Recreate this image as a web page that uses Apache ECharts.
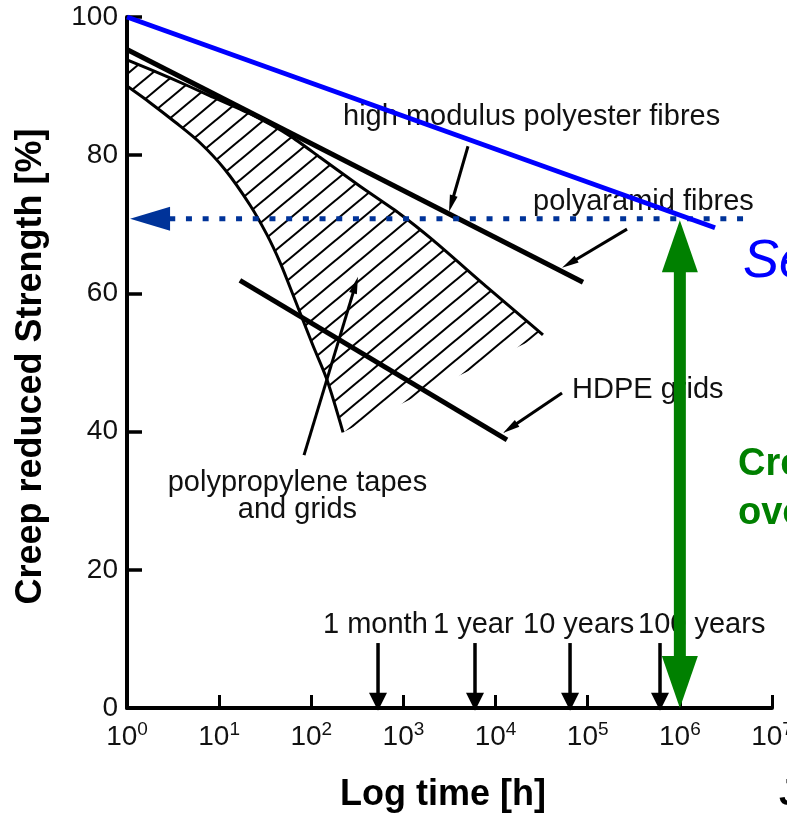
<!DOCTYPE html>
<html><head><meta charset="utf-8">
<script src="https://cdn.jsdelivr.net/npm/echarts@6/dist/echarts.min.js"></script>
<style>html,body{margin:0;padding:0;background:#fff}#c{width:787px;height:818px}</style>
</head><body><div id="c"></div>
<script>
// ---------------- data ----------------
const xTickExponents = [0, 1, 2, 3, 4, 5, 6, 7];
const yTickValues = [0, 20, 40, 60, 80, 100];

// blue design line
const serviceLine = [[1, 100], [2.41e6, 69.5]];
// high modulus polyester / polyaramid line
const polyesterLine = [[1, 95.3], [88900, 61.6]];
// HDPE grids line
const hdpeLine = [[16.8, 61.9], [13300, 38.8]];
// polypropylene band (upper and lower boundary)
const ppUpperX = [1, 2.93, 7.96, 21.6, 58.8, 124, 338, 918, 2094, 8070, 32700];
const ppUpperY = [93.8, 91.2, 88.6, 86.0, 82.8, 79.7, 75.5, 71.5, 67.7, 60.9, 54.0];
const ppLowerX = [1, 1.78, 3.32, 6.2, 11.6, 21.6, 33, 45.8, 58.8, 75.5, 104, 148, 221];
const ppLowerY = [90.0, 87.6, 84.8, 81.8, 77.9, 72.8, 68.5, 64.5, 60.9, 57.2, 52.5, 47.5, 39.9];

// dotted reference level arrow (from right end to the y axis)
const referenceArrow = [[4.85e6, 70.8, 1.08, 70.8]];
// green double arrow
const reductionArrow = [[1e6, 70.6, 1e6, 0]];
// pointer arrows from labels to curves [x1,y1,x2,y2]
const pointerArrows = [
  [5020, 81.3, 3125, 71.8],
  [267000, 69.3, 52600, 63.7],
  [52600, 45.6, 12050, 39.8],
  [83.4, 36.6, 321, 62.4]
];
// time marker arrows
const timeArrowX = [530, 5980, 64300, 609000];
const timeArrowTop = 9.4;
const timeArrowTip = -0.4;
const timeLabels = ['1 month', '1 year', '10 years', '100 years'];
const timeLabelX = [134, 2094, 19860, 351600];
const timeLabelY = 12.0;

// curve labels
const curveLabels = ['high modulus polyester fibres', 'polyaramid fibres', 'HDPE grids'];
const curveLabelX = [221, 25500, 67600];
const curveLabelY = [85.5, 73.2, 46.0];
const ppLabels = ['polypropylene tapes', 'and grids'];
const ppLabelX = [70.8, 70.8];
const ppLabelY = [32.6, 28.7];

// ---------------- chart ----------------
const F = '"Liberation Sans", Arial, Helvetica, sans-serif';
const zip = (xs, ys) => xs.map((x, i) => [x, ys[i]]);

function hatchPattern() {
  const W = 24, H = 20;
  const c = document.createElement('canvas');
  c.width = W; c.height = H;
  const g = c.getContext('2d');
  g.strokeStyle = '#000'; g.lineWidth = 2.1;
  for (let n = 0; n <= 2; n++) {
    g.beginPath();
    g.moveTo(-3, n * H + 3 * H / W);
    g.lineTo(W + 3, n * H - (W + 3) * H / W);
    g.stroke();
  }
  return c;
}
const pattern = hatchPattern();

function arrowGroup(p1, p2, o) {
  const dx = p2[0] - p1[0], dy = p2[1] - p1[1];
  const L = Math.hypot(dx, dy) || 1, ux = dx / L, uy = dy / L, nx = -uy, ny = ux;
  const k = 0.85;
  const s = o.startHead ? [p1[0] + ux * o.headLen * k, p1[1] + uy * o.headLen * k] : p1;
  const e = o.endHead ? [p2[0] - ux * o.headLen * k, p2[1] - uy * o.headLen * k] : p2;
  const children = [{
    type: 'line', shape: { x1: s[0], y1: s[1], x2: e[0], y2: e[1] },
    style: { stroke: o.color, lineWidth: o.width, lineDash: o.dash || null, lineCap: 'butt' }
  }];
  const head = (tip, dir) => {
    const bx = tip[0] - dir * ux * o.headLen, by = tip[1] - dir * uy * o.headLen;
    return {
      type: 'polygon',
      shape: { points: [tip, [bx + nx * o.headWid / 2, by + ny * o.headWid / 2], [bx - nx * o.headWid / 2, by - ny * o.headWid / 2]] },
      style: { fill: o.color }
    };
  };
  if (o.endHead) children.push(head(p2, 1));
  if (o.startHead) children.push(head(p1, -1));
  return { type: 'group', children };
}

function arrowSeries(data, o, z) {
  return {
    type: 'custom', coordinateSystem: 'cartesian2d', silent: true, z,
    encode: { x: [0, 2], y: [1, 3] }, data,
    renderItem: (params, api) => {
      const p1 = api.coord([api.value(0), api.value(1)]);
      const p2 = api.coord([api.value(2), api.value(3)]);
      return arrowGroup(p1, p2, o);
    }
  };
}

function textSeries(xs, ys, texts, align, z) {
  return {
    type: 'custom', coordinateSystem: 'cartesian2d', silent: true, z,
    encode: { x: 0, y: 1 },
    data: xs.map((x, i) => [x, Array.isArray(ys) ? ys[i] : ys]),
    renderItem: (params, api) => {
      const p = api.coord([api.value(0), api.value(1)]);
      return {
        type: 'text', x: p[0], y: p[1],
        style: { text: texts[params.dataIndex], fontSize: 29, fontFamily: F, fill: '#111', align, verticalAlign: 'middle' }
      };
    }
  };
}

function lineSeries(data, width, color, z, smooth) {
  return {
    type: 'line', data, showSymbol: false, symbol: 'none', silent: true, clip: false, z,
    smooth: smooth || false,
    lineStyle: { width, color, cap: 'butt', join: 'round' }
  };
}

const polygonPts = zip(ppUpperX, ppUpperY).concat(zip(ppLowerX, ppLowerY).reverse());

const chart = echarts.init(document.getElementById('c'));
chart.setOption({
  animation: false,
  backgroundColor: '#fff',
  grid: { left: 127, right: 15, top: 17, bottom: 110, containLabel: false, outerBoundsMode: 'none' },
  xAxis: {
    type: 'log', logBase: 10, min: Math.pow(10, xTickExponents[0]), max: Math.pow(10, xTickExponents[xTickExponents.length - 1]),
    splitNumber: 7,
    name: 'Log time [h]', nameLocation: 'middle', nameGap: 69,
    nameTextStyle: { fontSize: 36, fontWeight: 'bold', fontFamily: F, color: '#000', padding: [0, 13, 0, 0] },
    axisLine: { lineStyle: { color: '#000', width: 4 } },
    axisTick: { inside: true, length: 13, lineStyle: { color: '#000', width: 3 } },
    minorTick: { show: false },
    splitLine: { show: false },
    axisLabel: {
      margin: 12, showMinLabel: true, showMaxLabel: true,
      formatter: v => '{b|10}{s|' + Math.round(Math.log10(v)) + '}',
      rich: {
        b: { fontSize: 28, fontFamily: F, color: '#111', lineHeight: 34 },
        s: { fontSize: 19, fontFamily: F, color: '#111', lineHeight: 20, verticalAlign: 'top' }
      }
    }
  },
  yAxis: {
    type: 'value', min: yTickValues[0], max: yTickValues[yTickValues.length - 1], interval: 20,
    name: 'Creep reduced Strength [%]', nameLocation: 'middle', nameGap: 78,
    nameTextStyle: { fontSize: 36, fontWeight: 'bold', fontFamily: F, color: '#000', padding: [0, 8, 0, 0] },
    axisLine: { show: true, lineStyle: { color: '#000', width: 4 } },
    axisTick: { show: true, inside: true, length: 15, lineStyle: { color: '#000', width: 3.5 } },
    splitLine: { show: false },
    axisLabel: { margin: 9, fontSize: 28, fontFamily: F, color: '#111' }
  },
  series: [
    {
      type: 'custom', coordinateSystem: 'cartesian2d', silent: true, z: 1,
      encode: { x: 0, y: 1 }, data: [polygonPts[0]],
      renderItem: (params, api) => ({
        type: 'polygon',
        shape: { points: polygonPts.map(p => api.coord(p)) },
        style: { fill: { image: pattern, repeat: 'repeat' }, stroke: null }
      })
    },
    lineSeries(zip(ppUpperX, ppUpperY), 3, '#000', 2, 0.2),
    lineSeries(zip(ppLowerX, ppLowerY), 3, '#000', 2, 0.3),
    lineSeries(polyesterLine, 5, '#000', 3),
    lineSeries(hdpeLine, 5, '#000', 3),
    arrowSeries(pointerArrows, { width: 3, color: '#000', headLen: 17, headWid: 8, endHead: true }, 3),
    arrowSeries(timeArrowX.map(x => [x, timeArrowTop, x, timeArrowTip]), { width: 3.5, color: '#000', headLen: 18, headWid: 18, endHead: true }, 3),
    textSeries(curveLabelX, curveLabelY, curveLabels, 'left', 4),
    textSeries(ppLabelX, ppLabelY, ppLabels, 'center', 4),
    textSeries(timeLabelX, timeLabelY, timeLabels, 'left', 4),
    arrowSeries(referenceArrow, { width: 5, color: '#003399', headLen: 40, headWid: 24, endHead: true, dash: [6, 10.7] }, 5),
    arrowSeries(reductionArrow, { width: 12, color: '#008000', headLen: 52, headWid: 36, endHead: true, startHead: true }, 6),
    lineSeries(serviceLine, 5, '#0000ff', 7)
  ],
  graphic: [
    { type: 'text', x: 743, y: 262, z: 10, style: { text: 'Service life', fontSize: 54, fontStyle: 'italic', fontFamily: F, fill: '#0000ff', verticalAlign: 'middle' } },
    { type: 'text', x: 738, y: 465, z: 10, style: { text: 'Creep reduction', fontSize: 38, fontWeight: 'bold', fontFamily: F, fill: '#008000', verticalAlign: 'middle' } },
    { type: 'text', x: 738, y: 514, z: 10, style: { text: 'over lifetime', fontSize: 38, fontWeight: 'bold', fontFamily: F, fill: '#008000', verticalAlign: 'middle' } },
    { type: 'text', x: 779, y: 795, z: 10, style: { text: 'J', fontSize: 36, fontWeight: 'bold', fontFamily: F, fill: '#000', verticalAlign: 'middle' } }
  ]
});
</script>
</body></html>
